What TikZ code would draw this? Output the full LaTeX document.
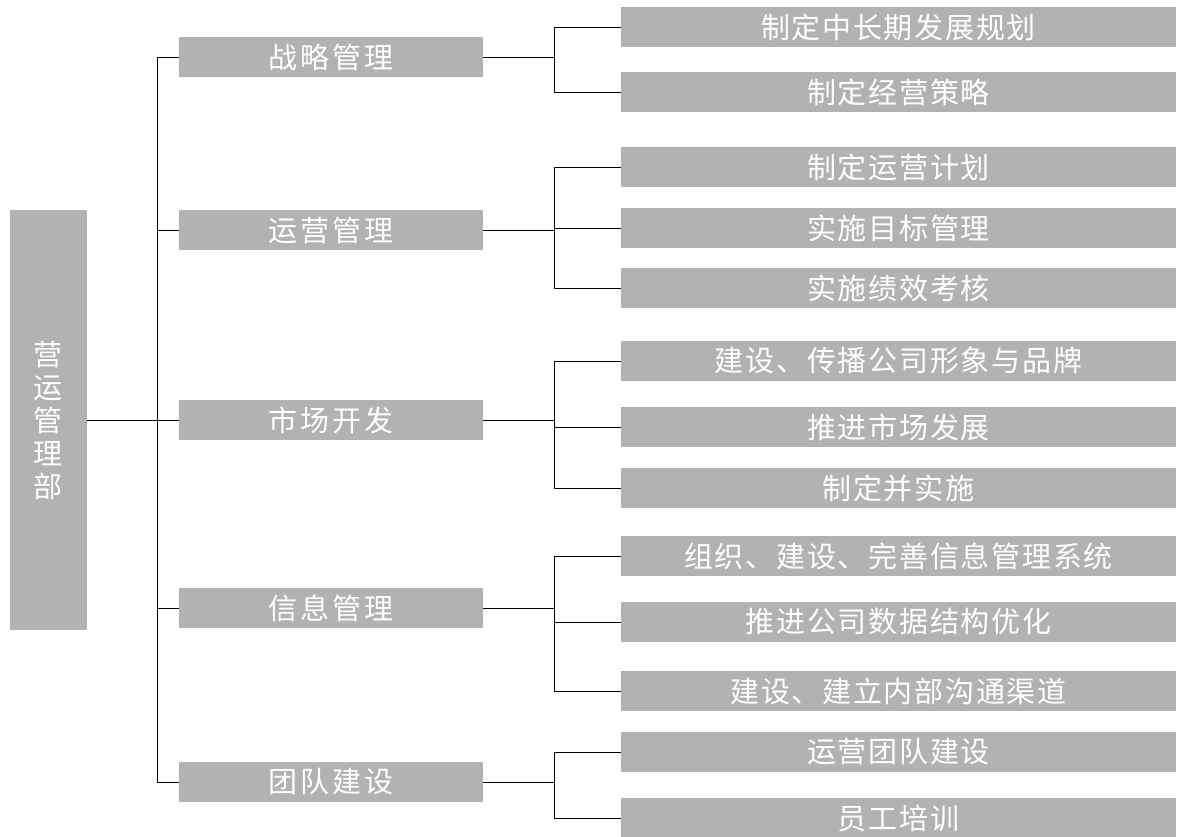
\documentclass[tikz,border=0pt]{standalone}
\usepackage{fontspec}
\newfontfamily\cjk{Noto Sans CJK SC}
\newfontfamily\cjkmid[LetterSpace=11]{Noto Sans CJK SC}
\newfontfamily\cjkleaf[LetterSpace=6]{Noto Sans CJK SC}
\tikzset{
  box/.style={fill=black!30, text=white, inner sep=0pt, anchor=center},
  rootbox/.style={box, minimum width=77pt, minimum height=420pt, align=center,
    font=\cjk\fontsize{29}{33}\selectfont},
  midbox/.style={box, minimum width=304pt, minimum height=40pt,
    font=\cjkmid\fontsize{29}{30}\selectfont},
  leafbox/.style={box, minimum width=555pt, minimum height=40pt,
    font=\cjkleaf\fontsize{29}{30}\selectfont},
  link/.style={draw=black, line width=0.8pt}
}
\begin{document}
\begin{tikzpicture}[x=1pt,y=-1pt]
\useasboundingbox (0,0) rectangle (1178,837);
% root
\node[rootbox] (root) at (48.5,420) {营\\运\\管\\理\\部};
% middle column
\node[midbox] (m1) at (331,57) {战略管理};
\node[midbox] (m2) at (331,230) {运营管理};
\node[midbox] (m3) at (331,420) {市场开发};
\node[midbox] (m4) at (331,608) {信息管理};
\node[midbox] (m5) at (331,782) {团队建设};
% right column
\node[leafbox] (a1) at (898.5,27) {制定中长期发展规划};
\node[leafbox] (a2) at (898.5,92) {制定经营策略};
\node[leafbox] (b1) at (898.5,167) {制定运营计划};
\node[leafbox] (b2) at (898.5,228) {实施目标管理};
\node[leafbox] (b3) at (898.5,288) {实施绩效考核};
\node[leafbox] (c1) at (898.5,361) {建设、传播公司形象与品牌};
\node[leafbox] (c2) at (898.5,427) {推进市场发展};
\node[leafbox] (c3) at (898.5,488) {制定并实施};
\node[leafbox] (d1) at (898.5,556) {组织、建设、完善信息管理系统};
\node[leafbox] (d2) at (898.5,622) {推进公司数据结构优化};
\node[leafbox] (d3) at (898.5,691) {建设、建立内部沟通渠道};
\node[leafbox] (e1) at (898.5,752) {运营团队建设};
\node[leafbox] (e2) at (898.5,818) {员工培训};
% trunk
\coordinate (j1) at (157,57);
\coordinate (j3) at (157,420);
\coordinate (j5) at (157,782);
\draw[link] (j1) -- (j5);
\draw[link] (root) -- (j3);
\draw[link] (j1) -- (m1);
\draw[link] (j1 |- m2) -- (m2);
\draw[link] (j3) -- (m3);
\draw[link] (j1 |- m4) -- (m4);
\draw[link] (j5) -- (m5);
% brackets
\coordinate (s1) at (554,57);
\coordinate (s2) at (554,230);
\coordinate (s3) at (554,420);
\coordinate (s4) at (554,608);
\coordinate (s5) at (554,782);
\draw[link] (m1) -- (s1);
\draw[link] (s1) |- (a1);
\draw[link] (s1) |- (a2);
\draw[link] (m2) -- (s2);
\draw[link] (s2) |- (b1);
\draw[link] (s2) |- (b2);
\draw[link] (s2) |- (b3);
\draw[link] (m3) -- (s3);
\draw[link] (s3) |- (c1);
\draw[link] (s3) |- (c2);
\draw[link] (s3) |- (c3);
\draw[link] (m4) -- (s4);
\draw[link] (s4) |- (d1);
\draw[link] (s4) |- (d2);
\draw[link] (s4) |- (d3);
\draw[link] (m5) -- (s5);
\draw[link] (s5) |- (e1);
\draw[link] (s5) |- (e2);
\end{tikzpicture}
\end{document}
